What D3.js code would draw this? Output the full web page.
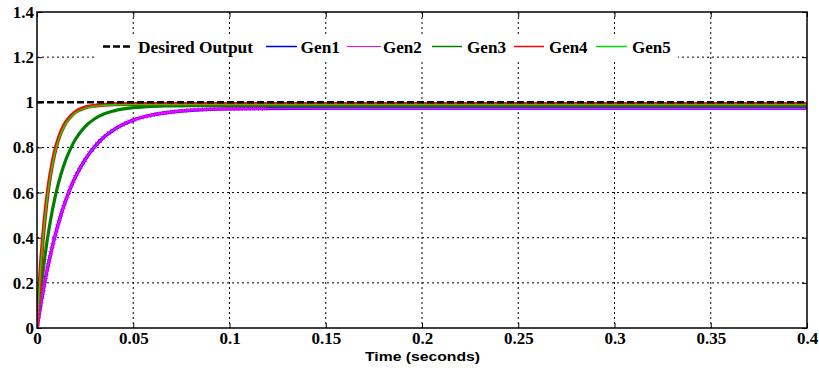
<!DOCTYPE html>
<html>
<head>
<meta charset="utf-8">
<script src="https://cdn.jsdelivr.net/npm/d3@7"></script>
<style>
  html, body { margin: 0; padding: 0; background: #fff; }
  svg { display: block; }
</style>
</head>
<body>
<svg id="chart" width="819" height="368"></svg>
<script>
// ---------------- data ----------------
const time = [0, 0.002, 0.004, 0.006, 0.008, 0.01, 0.0125, 0.015, 0.0175, 0.02, 0.025, 0.03, 0.035, 0.04, 0.05, 0.06, 0.07, 0.08, 0.1, 0.15, 0.2, 0.3, 0.4];
const desired = [1, 1, 1, 1, 1, 1, 1, 1, 1, 1, 1, 1, 1, 1, 1, 1, 1, 1, 1, 1, 1, 1, 1];
const gen1 = [0, 0.107, 0.202, 0.287, 0.362, 0.429, 0.503, 0.567, 0.622, 0.670, 0.746, 0.804, 0.847, 0.879, 0.921, 0.944, 0.957, 0.965, 0.971, 0.974, 0.974, 0.974, 0.974];
const gen2 = [0, 0.107, 0.202, 0.287, 0.362, 0.429, 0.503, 0.567, 0.622, 0.670, 0.746, 0.804, 0.847, 0.879, 0.921, 0.944, 0.957, 0.965, 0.971, 0.973, 0.973, 0.973, 0.973];
const gen3 = [0, 0.169, 0.309, 0.426, 0.522, 0.602, 0.682, 0.746, 0.796, 0.836, 0.892, 0.927, 0.949, 0.962, 0.976, 0.982, 0.984, 0.985, 0.985, 0.985, 0.985, 0.985, 0.985];
const gen4 = [0, 0.281, 0.483, 0.627, 0.730, 0.805, 0.869, 0.911, 0.938, 0.957, 0.977, 0.985, 0.989, 0.991, 0.992, 0.992, 0.992, 0.992, 0.992, 0.992, 0.992, 0.992, 0.992];
const gen5 = [0, 0.277, 0.477, 0.620, 0.724, 0.799, 0.864, 0.906, 0.934, 0.953, 0.974, 0.983, 0.987, 0.989, 0.990, 0.990, 0.990, 0.990, 0.990, 0.990, 0.990, 0.990, 0.990];

const xTickValues = [0, 0.05, 0.1, 0.15, 0.2, 0.25, 0.3, 0.35, 0.4];
const xTickLabels = ["0", "0.05", "0.1", "0.15", "0.2", "0.25", "0.3", "0.35", "0.4"];
const yTickValues = [0, 0.2, 0.4, 0.6, 0.8, 1, 1.2, 1.4];
const yTickLabels = ["0", "0.2", "0.4", "0.6", "0.8", "1", "1.2", "1.4"];

const legendNames = ["Desired Output", "Gen1", "Gen2", "Gen3", "Gen4", "Gen5"];
const xLabel = "Time (seconds)";

// ---------------- layout ----------------
const svg = d3.select("#chart");
const L = 37, R = 807, T = 12, B = 328;
const x = d3.scaleLinear().domain([0, 0.4]).range([L, R]);
const y = d3.scaleLinear().domain([0, 1.4]).range([B, T]);

const serif = "'Liberation Serif', 'Times New Roman', serif";
const sans = "'Liberation Sans', Arial, sans-serif";

// grid
const grid = svg.append("g").attr("stroke", "#000").attr("stroke-width", 1)
  .attr("stroke-dasharray", "2,3").attr("fill", "none");
grid.selectAll("line.gx").data(xTickValues.slice(1, -1)).join("line")
  .attr("x1", d => x(d)).attr("x2", d => x(d)).attr("y1", T).attr("y2", B);
grid.selectAll("line.gy").data(yTickValues.slice(1, -1)).join("line")
  .attr("x1", L).attr("x2", R).attr("y1", d => y(d)).attr("y2", d => y(d));

// axes with inward ticks
function styleAxis(g) {
  g.select(".domain").remove();
  g.selectAll(".tick line").attr("stroke", "#000").attr("stroke-width", 1);
  g.selectAll(".tick text").attr("font-family", serif).attr("font-weight", "bold")
    .attr("font-size", 17).attr("fill", "#000");
}
svg.append("g").attr("transform", `translate(0,${B})`)
  .call(d3.axisBottom(x).tickValues(xTickValues).tickFormat((d, i) => xTickLabels[i])
    .tickSizeInner(-5).tickSizeOuter(0).tickPadding(4))
  .call(styleAxis)
  .call(g => g.selectAll(".tick text").attr("y", 16).attr("dy", null));
svg.append("g").attr("transform", `translate(${L},0)`)
  .call(d3.axisLeft(y).tickValues(yTickValues).tickFormat((d, i) => yTickLabels[i])
    .tickSizeInner(-5).tickSizeOuter(0).tickPadding(4))
  .call(styleAxis)
  .call(g => g.selectAll(".tick text").attr("x", -3));
svg.append("g").attr("transform", `translate(0,${T})`)
  .call(d3.axisTop(x).tickValues(xTickValues).tickFormat("").tickSizeInner(-5).tickSizeOuter(0))
  .call(styleAxis);
svg.append("g").attr("transform", `translate(${R},0)`)
  .call(d3.axisRight(y).tickValues(yTickValues).tickFormat("").tickSizeInner(-5).tickSizeOuter(0))
  .call(styleAxis);

// clip
svg.append("clipPath").attr("id", "clip").append("rect")
  .attr("x", L).attr("y", T - 2).attr("width", R - L + 4).attr("height", B - T + 2);

const plot = svg.append("g").attr("clip-path", "url(#clip)");
const line = arr => d3.line().x((d, i) => x(time[i])).y(d => y(d)).curve(d3.curveMonotoneX)(arr);

plot.append("path").attr("d", line(gen1)).attr("fill", "none").attr("stroke", "#0000ff").attr("stroke-width", 3.4);
const g2path = plot.append("path").attr("d", line(gen2)).attr("fill", "none").attr("stroke", "#ff00ff").attr("stroke-width", 1.8);
plot.append("path").attr("d", line(gen3)).attr("fill", "none").attr("stroke", "#008000").attr("stroke-width", 3.2);
plot.append("path").attr("d", line(gen4)).attr("fill", "none").attr("stroke", "#ff0000").attr("stroke-width", 4);
plot.append("path").attr("d", line(gen5)).attr("fill", "none").attr("stroke", "#00e000").attr("stroke-width", 1.5);
plot.append("path").attr("d", line(desired)).attr("fill", "none").attr("stroke", "#000").attr("stroke-width", 2.5)
  .attr("stroke-dasharray", "7,3");

// x markers along Gen2 (sampled along its path)
const node = g2path.node();
const total = node.getTotalLength();
const markerPts = [];
for (let s = 0; s <= total; s += 4) {
  const p = node.getPointAtLength(s);
  if (p.x < x(0.12)) markerPts.push(p);
}
function xMark(g, px, py, r) {
  g.append("path").attr("d", `M${px - r},${py - r}L${px + r},${py + r}M${px - r},${py + r}L${px + r},${py - r}`)
    .attr("stroke", "#ff00ff").attr("stroke-width", 1).attr("fill", "none");
}
const mk = plot.append("g");
markerPts.forEach(p => xMark(mk, p.x, p.y, 2));

// frame
svg.append("rect").attr("x", L).attr("y", T).attr("width", R - L).attr("height", B - T)
  .attr("fill", "none").attr("stroke", "#000").attr("stroke-width", 1.5);

// legend
const lg = svg.append("g");
lg.append("rect").attr("x", 97).attr("y", 34).attr("width", 581).attr("height", 25).attr("fill", "#fff");
const legendItems = [
  { name: legendNames[0], color: "#000", dash: "7,3", w: 2.5, x1: 103, x2: 131, tx: 138, tw: 115 },
  { name: legendNames[1], color: "#0000ff", w: 1.5, x1: 266, x2: 297, tx: 300.5, tw: 39.5 },
  { name: legendNames[2], color: "#ff00ff", w: 1.2, x1: 347, x2: 381, tx: 383, tw: 38.7 },
  { name: legendNames[3], color: "#008000", w: 1.5, x1: 432, x2: 462, tx: 467, tw: 39 },
  { name: legendNames[4], color: "#ff0000", w: 1.5, x1: 514, x2: 544, tx: 549, tw: 38.5 },
  { name: legendNames[5], color: "#00e000", w: 1.5, x1: 596, x2: 627, tx: 632, tw: 38.7 }
];
const ly = 46.5;
legendItems.forEach(it => {
  lg.append("line").attr("x1", it.x1).attr("x2", it.x2).attr("y1", ly).attr("y2", ly)
    .attr("stroke", it.color).attr("stroke-width", it.w).attr("stroke-dasharray", it.dash || null);
  if (it.marks) { xMark(lg, it.x1, ly, 2); xMark(lg, it.x2, ly, 2); }
  lg.append("text").attr("x", it.tx).attr("y", 53.3).text(it.name)
    .attr("font-family", serif).attr("font-weight", "bold").attr("font-size", 16.5).attr("fill", "#000")
    .attr("textLength", it.tw).attr("lengthAdjust", "spacingAndGlyphs");
});

// x label
svg.append("text").attr("x", 422.5).attr("y", 361).attr("text-anchor", "middle")
  .attr("font-family", sans).attr("font-weight", "bold").attr("font-size", 13)
  .attr("textLength", 115).attr("lengthAdjust", "spacingAndGlyphs").text(xLabel);
</script>
</body>
</html>
